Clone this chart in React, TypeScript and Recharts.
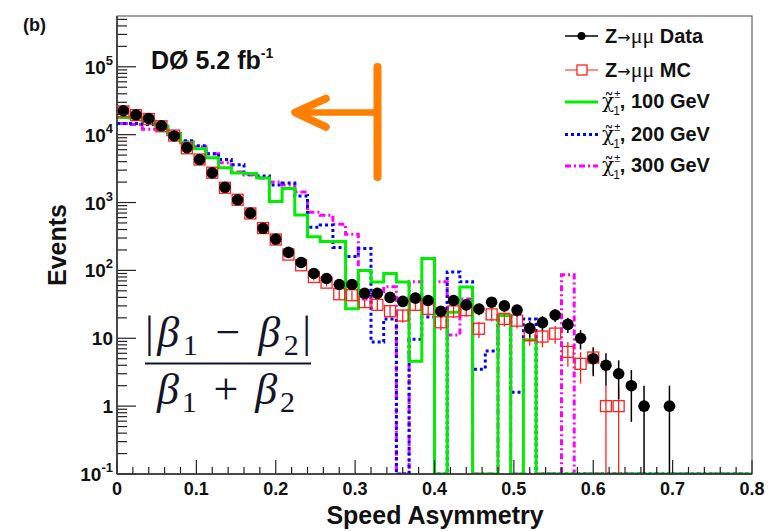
import React from 'react';
import { ComposedChart, Line, Scatter, XAxis, YAxis, ErrorBar } from 'recharts';

// Speed asymmetry |b1 - b2| / (b1 + b2): 50 bins of 0.016 from 0 to 0.8
const BIN_WIDTH = 0.016;
const N_BINS = 50;
const Y_MIN = 0.1;
const Y_MAX = 5.6e5;

// Z -> mu mu candidates, events per bin (bins past the end of the list are empty)
const dataEvents = [
  22500, 19600, 17300, 13500, 9570, 6410, 4300, 2730, 1675, 1096,
  697, 417, 289, 184, 131, 90, 76, 62, 62, 46,
  46, 40, 35, 39, 36, 25, 36, 31, 27, 34,
  30, 26, 14, 17, 22, 16, 10, 5, 4, 3,
  2, 1, 0, 1,
];

// Z -> mu mu simulation, normalised to the data
const mcEvents = [
  22000, 19400, 17000, 13300, 9700, 6300, 4300, 2750, 1650, 1100,
  690, 420, 285, 171, 119, 80, 66, 44.5, 43, 34.1,
  31.1, 25.1, 21.6, 31.1, 27.1, 17.2, 24.9, 25.9, 13.8, 22.5,
  19.3, 18.2, 11.1, 10.6, 11.7, 6.3, 4.2, 5.2, 1, 1,
];

// stopped chargino signal samples
const chargino100 = [
  17900, 17580, 15850, 13360, 10350, 7600, 6190, 4560, 3240, 2730,
  2685, 2300, 1037, 1607, 657, 312, 267, 267, 27.1, 100,
  67.5, 89.7, 67.5, 4.6, 150, 0, 24.2, 56.9, 0, 0,
  21.6, 0, 9.5,
];
const chargino200 = [
  14560, 14560, 14070, 13140, 10340, 8150, 6870, 5230, 4300, 3590,
  2640, 2465, 1813, 1940, 1245, 432, 467, 218, 160, 211,
  8.8, 19.3, 0, 9.7, 20.6, 0, 95, 68, 3.5, 6.5,
  21.6, 1.6, 19.3,
];
const chargino300 = [
  14560, 14070, 11980, 11860, 10000, 7870, 6640, 5230, 3840, 2825,
  2550, 2300, 2008, 1813, 1427, 720, 650, 478, 340, 38,
  45, 57.5, 0, 68, 32, 68, 11.2, 38, 0, 0,
  21.6, 0, 0, 0, 0, 86.6,
];

const xTickLabels = ['0', '0.1', '0.2', '0.3', '0.4', '0.5', '0.6', '0.7', '0.8'];
const yDecades = [0.1, 1, 10, 100, 1000, 10000, 100000];
const charginoMasses = ['100', '200', '300'];

const SANS = '"Liberation Sans", Arial, Helvetica, sans-serif';
const SERIF = '"Liberation Serif", "Times New Roman", serif';
const GREEK = '"DejaVu Serif", "Liberation Serif", serif';
const ARROW = '"DejaVu Sans", sans-serif';

const GREEN = '#00ee00';
const BLUE = '#0000ff';
const MAGENTA = '#ff00ff';
const RED = '#ff2020';
const ORANGE = '#ff7f00';

// minor ticks every 0.02, labelled ones every 0.1
const xTicks = Array.from({ length: 41 }, (_, i) => +(i * 0.02).toFixed(2));
const yTicks = yDecades.flatMap((d) =>
  [1, 2, 3, 4, 5, 6, 7, 8, 9].map((k) => d * k).filter((v) => v <= Y_MAX)
);

// histogram outline: one point per lower bin edge, empty bins sit on the axis floor
const stepRows = (counts: number[]) => {
  const rows = [];
  for (let i = 0; i <= N_BINS; i++) {
    const n = counts[Math.min(i, N_BINS - 1)] ?? 0;
    rows.push({ x: +(i * BIN_WIDTH).toFixed(3), y: Math.max(n, Y_MIN) });
  }
  return rows;
};

// markers at bin centres with Poisson errors, lower edge kept inside the frame
const pointRows = (counts: number[]) =>
  counts
    .map((n, i) => ({
      x: +((i + 0.5) * BIN_WIDTH).toFixed(3),
      y: n,
      err: [Math.min(Math.sqrt(n), n - Y_MIN), Math.sqrt(n)],
    }))
    .filter((p) => p.y > 0);

const dataPoints = pointRows(dataEvents);
const mcPoints = pointRows(mcEvents);

const YTick = (props: any) => {
  const { x, y, payload } = props;
  const lg = Math.log10(payload.value);
  const e = Math.round(lg);
  const major = Math.abs(lg - e) < 1e-6;
  return (
    <g>
      <line x1={x} x2={x + (major ? 19 : 10)} y1={y} y2={y} stroke="#222" strokeWidth={1.2} />
      {major && (
        <text x={x - 4} y={y + 7} textAnchor="end" fontFamily={SANS} fontWeight="bold" fontSize={19} fill="#111">
          {e === 0 ? '1' : '10'}
          {e !== 0 && e !== 1 && (
            <tspan dy={-9} fontSize={13}>
              {e}
            </tspan>
          )}
        </text>
      )}
    </g>
  );
};

const XTick = (props: any) => {
  const { x, y, payload } = props;
  const idx = Math.round(payload.value * 10);
  const major = Math.abs(payload.value * 10 - idx) < 1e-6;
  return (
    <g>
      <line x1={x} x2={x} y1={y} y2={y - (major ? 14 : 7)} stroke="#222" strokeWidth={1.2} />
      {major && (
        <text x={x} y={y + 21} textAnchor="middle" fontFamily={SANS} fontWeight="bold" fontSize={18} fill="#111">
          {xTickLabels[idx]}
        </text>
      )}
    </g>
  );
};

const DataDot = (props: any) => <circle cx={props.cx} cy={props.cy} r={5.8} fill="#000" />;
const McSquare = (props: any) => (
  <rect x={props.cx - 5.5} y={props.cy - 5.5} width={11} height={11} fill="none" stroke={RED} strokeWidth={1.3} />
);

// chi-tilde with charge superscript and index subscript stacked, then the mass
const CharginoLabel = ({ x, y, mass }: { x: number; y: number; mass: string }) => (
  <text x={x} y={y + 7} fontFamily={GREEK} fontSize={20} fill="#111">
    {'χ\u0303'}
    <tspan dy={-10} fontFamily={SANS} fontSize={11}>±</tspan>
    <tspan dx={-7} dy={17} fontFamily={SANS} fontSize={12}>1</tspan>
    <tspan dy={-7} fontFamily={SANS} fontWeight="bold" fontSize={20}>, {mass} GeV</tspan>
  </text>
);

const ZLabel = ({ y, tail }: { y: number; tail: string }) => (
  <text x={605} y={y} fontFamily={SANS} fontWeight="bold" fontSize={20} fill="#111">
    Z<tspan fontFamily={ARROW} fontWeight="normal" fontSize={16}>→</tspan>
    <tspan fontFamily={SERIF} fontWeight="normal" fontSize={22}>μμ</tspan> {tail}
  </text>
);

function Overlay() {
  const lx1 = 565;
  const lx2 = 598;
  const tx = 605;
  const rowY = [102, 134.5, 166];
  const rowStyle = [
    { stroke: GREEN, dash: undefined },
    { stroke: BLUE, dash: '3 3' },
    { stroke: MAGENTA, dash: '6 3 2 3' },
  ];
  return (
    <svg width={773} height={531} style={{ position: 'absolute', left: 0, top: 0, pointerEvents: 'none' }}>
      <rect x={117} y={16} width={635} height={458} fill="none" stroke="#444" strokeWidth={1} />

      <text x={23} y={31} fontFamily={SANS} fontWeight="bold" fontSize={18} fill="#111">(b)</text>

      <text x={151} y={69} fontFamily={SANS} fontWeight="bold" fontSize={25} fill="#111">
        DØ 5.2 fb
        <tspan dy={-11} fontSize={14}>-1</tspan>
      </text>

      {/* legend */}
      <line x1={lx1} x2={lx2} y1={36} y2={36} stroke="#000" strokeWidth={1.5} />
      <circle cx={581.5} cy={36} r={4} fill="#000" />
      <ZLabel y={43} tail="Data" />

      <line x1={lx1} x2={lx2} y1={70} y2={70} stroke={RED} strokeWidth={1.2} />
      <rect x={577} y={65} width={10} height={10} fill="#fff" stroke={RED} strokeWidth={1.3} />
      <ZLabel y={77} tail="MC" />

      {charginoMasses.map((m, i) => (
        <g key={m}>
          <line x1={lx1} x2={lx2} y1={rowY[i]} y2={rowY[i]} stroke={rowStyle[i].stroke} strokeWidth={3}
            strokeDasharray={rowStyle[i].dash} />
          <CharginoLabel x={tx - 3} y={rowY[i] - 1} mass={m} />
        </g>
      ))}

      {/* orange arrow */}
      <g stroke={ORANGE} strokeLinecap="round" fill="none">
        <line x1={377.5} x2={377.5} y1={67} y2={177} strokeWidth={8} />
        <line x1={377} x2={296} y1={112.5} y2={112.5} strokeWidth={6.5} />
        <polyline points="326,98.5 295,112.5 326,127" strokeWidth={7.5} strokeLinejoin="round" />
      </g>

      {/* speed asymmetry definition */}
      <g fontFamily={SERIF} fill="#141428">
        <text x={145} y={347} fontSize={44} textLength={166} lengthAdjust="spacing">
          |<tspan fontStyle="italic">β</tspan>
          <tspan dy={8} fontSize={30}>1</tspan>
          <tspan dy={-8}> − </tspan>
          <tspan fontStyle="italic">β</tspan>
          <tspan dy={8} fontSize={30}>2</tspan>
          <tspan dy={-8}>|</tspan>
        </text>
        <line x1={145} x2={311} y1={363.5} y2={363.5} stroke="#141428" strokeWidth={1.8} />
        <text x={157} y={404} fontSize={44} textLength={138} lengthAdjust="spacing">
          <tspan fontStyle="italic">β</tspan>
          <tspan dy={8} fontSize={30}>1</tspan>
          <tspan dy={-8}> + </tspan>
          <tspan fontStyle="italic">β</tspan>
          <tspan dy={8} fontSize={30}>2</tspan>
        </text>
      </g>

      <text x={435} y={524} textAnchor="middle" fontFamily={SANS} fontWeight="bold" fontSize={25} fill="#111">
        Speed Asymmetry
      </text>
      <text x={66} y={245} textAnchor="middle" transform="rotate(-90 66 245)" fontFamily={SANS} fontWeight="bold" fontSize={25} fill="#111">
        Events
      </text>
    </svg>
  );
}

export default function App() {
  return (
    <div style={{ position: 'relative', width: 773, height: 531, background: '#fff' }}>
      <style>{'body{margin:0}'}</style>
      <ComposedChart width={773} height={531} margin={{ top: 16, right: 21, left: 0, bottom: 0 }}>
        <XAxis
          dataKey="x"
          type="number"
          domain={[0, 0.8]}
          allowDataOverflow
          ticks={xTicks}
          interval={0}
          tick={XTick}
          tickLine={false}
          tickSize={0}
          tickMargin={0}
          height={57}
          axisLine={{ stroke: '#111', strokeWidth: 1.5 }}
        />
        <YAxis
          dataKey="y"
          type="number"
          scale="log"
          domain={[Y_MIN, Y_MAX]}
          allowDataOverflow
          ticks={yTicks}
          interval={0}
          tick={YTick}
          tickLine={false}
          tickSize={0}
          tickMargin={0}
          width={117}
          axisLine={{ stroke: '#111', strokeWidth: 1.5 }}
        />
        <Line data={stepRows(chargino300)} dataKey="y" type="stepAfter" stroke={MAGENTA} strokeWidth={3}
          strokeDasharray="6 3 2 3" dot={false} activeDot={false} isAnimationActive={false} />
        <Line data={stepRows(chargino200)} dataKey="y" type="stepAfter" stroke={BLUE} strokeWidth={3}
          strokeDasharray="3 3" dot={false} activeDot={false} isAnimationActive={false} />
        <Line data={stepRows(chargino100)} dataKey="y" type="stepAfter" stroke={GREEN} strokeWidth={3}
          dot={false} activeDot={false} isAnimationActive={false} />
        <Scatter data={mcPoints} dataKey="y" shape={McSquare} isAnimationActive={false}>
          <ErrorBar dataKey="err" direction="y" width={0} stroke={RED} strokeWidth={1.3} />
        </Scatter>
        <Scatter data={dataPoints} dataKey="y" shape={DataDot} isAnimationActive={false}>
          <ErrorBar dataKey="err" direction="y" width={0} stroke="#000" strokeWidth={1.5} />
        </Scatter>
      </ComposedChart>
      <Overlay />
    </div>
  );
}
